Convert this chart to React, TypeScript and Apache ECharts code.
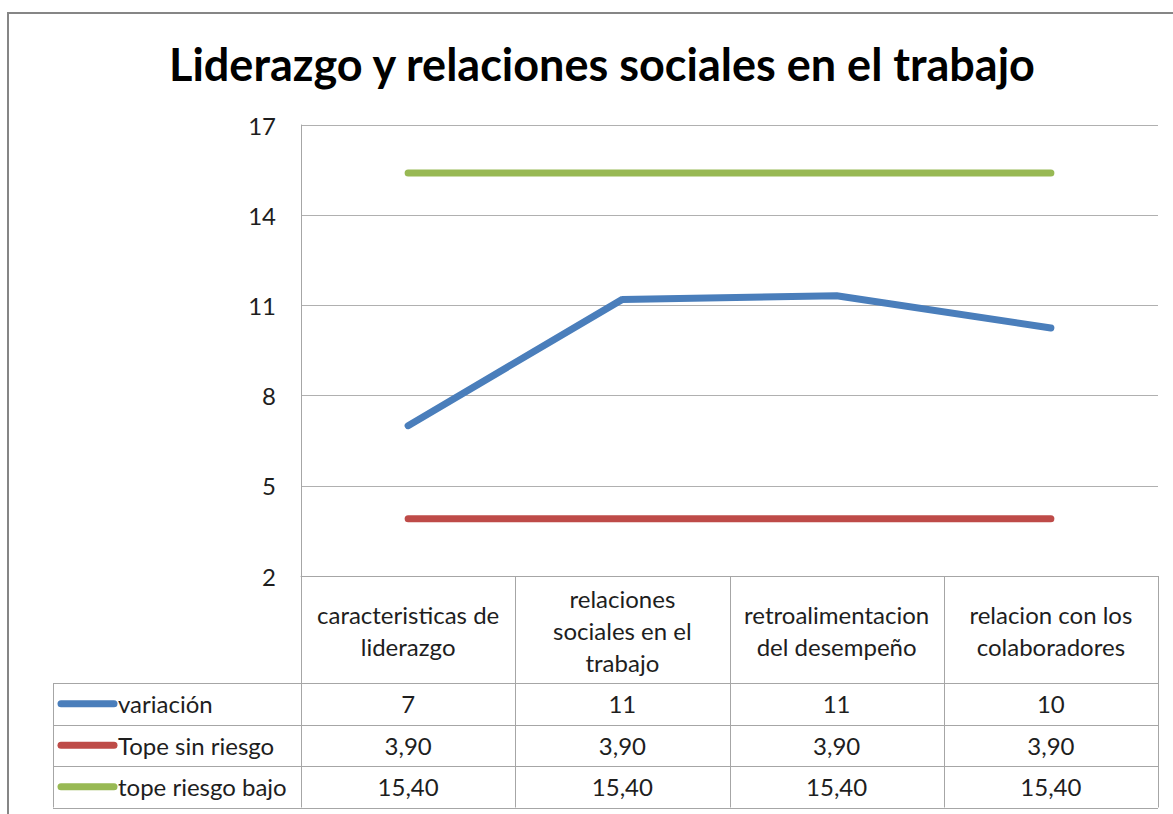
import React, { useEffect, useRef } from "react";
import * as echarts from "echarts";

const TITLE = "Liderazgo y relaciones sociales en el trabajo";
const categories = [
  "caracteristicas de\nliderazgo",
  "relaciones\nsociales en el\ntrabajo",
  "retroalimentacion\ndel desempeño",
  "relacion con los\ncolaboradores",
];
const variacion = [7.0, 11.2, 11.32, 10.25];
const topeSinRiesgo = [3.9, 3.9, 3.9, 3.9];
const topeRiesgoBajo = [15.4, 15.4, 15.4, 15.4];
const yTicks = [2, 5, 8, 11, 14, 17];

const seriesNames = ["variación", "Tope sin riesgo", "tope riesgo bajo"];
const seriesColors = ["#4a7ebb", "#be4b48", "#98b954"];
const seriesData = [variacion, topeSinRiesgo, topeRiesgoBajo];
const seriesFormat = [
  (v: number) => String(Math.round(v)),
  (v: number) => v.toFixed(2).replace(".", ","),
  (v: number) => v.toFixed(2).replace(".", ","),
];

const FONT = "Lato, 'Open Sans', sans-serif";
const FS = 24;
const TEXT = "#1e1e1e";
const GRID = "#b0b0b0";
const TABLE = "#a6a6a6";

export default function App() {
  const ref = useRef<HTMLDivElement>(null);
  useEffect(() => {
    if (!ref.current) return;
    const chart = echarts.init(ref.current, undefined, { renderer: "svg" });
    const option: any = {
      animation: false,
      backgroundColor: "#ffffff",
      title: {
        text: TITLE,
        left: 597,
        textAlign: "center",
        top: 36,
        textStyle: { fontFamily: FONT, fontSize: 45, fontWeight: "bold", color: "#000" },
      },
      grid: { left: 301, right: 15, top: 125, bottom: 238, containLabel: false },
      xAxis: {
        type: "category",
        data: categories,
        boundaryGap: true,
        axisLine: { show: true, lineStyle: { color: TABLE, width: 1 } },
        axisTick: { show: false },
        axisLabel: {
          interval: 0,
          margin: 54,
          verticalAlign: "middle",
          fontFamily: FONT,
          fontSize: FS,
          lineHeight: 32,
          color: TEXT,
          align: "center",
        },
      },
      yAxis: {
        type: "value",
        min: 2,
        max: 17,
        axisLine: { show: true, lineStyle: { color: TABLE, width: 1 } },
        axisTick: { show: false, customValues: yTicks },
        axisLabel: {
          customValues: yTicks,
          margin: 25,
          fontFamily: FONT,
          fontSize: FS,
          color: TEXT,
        },
        splitLine: { show: true, lineStyle: { color: GRID, width: 1 } },
      },
      series: seriesNames.map((name, i) => ({
        name,
        type: "line",
        data: seriesData[i],
        symbol: "none",
        lineStyle: { color: seriesColors[i], width: 7, cap: "round", join: "round" },
        z: 3 + (i === 0 ? 2 : 0),
      })),
    };
    chart.setOption(option);

    const xs = categories.map((_, i) => chart.convertToPixel({ xAxisIndex: 0 }, i) as number);
    const colW = xs[1] - xs[0];
    const left = xs[0] - colW / 2;
    const right = xs[xs.length - 1] + colW / 2;
    const axisY = chart.convertToPixel({ yAxisIndex: 0 }, 2) as number;
    const headerBottom = 683;
    const rowH = 41.5;
    const tableLeft = 53;
    const tableBottom = headerBottom + rowH * 3;

    const g: any[] = [];
    g.push({
      type: "rect",
      shape: { x: 8, y: 13, width: 1250, height: 900 },
      style: { fill: "none", stroke: "#868686", lineWidth: 2 },
      silent: true,
    });
    const line = (x1: number, y1: number, x2: number, y2: number) => ({
      type: "line",
      shape: { x1, y1, x2, y2 },
      style: { stroke: TABLE, lineWidth: 1 },
      silent: true,
    });
    for (let r = 0; r <= 3; r++) {
      const y = Math.round(headerBottom + rowH * r) + 0.5;
      g.push(line(tableLeft, y, right, y));
    }
    g.push(line(tableLeft + 0.5, headerBottom, tableLeft + 0.5, tableBottom));
    g.push(line(Math.round(left) + 0.5, axisY, Math.round(left) + 0.5, tableBottom));
    for (let i = 1; i < xs.length; i++) {
      const x = Math.round((xs[i - 1] + xs[i]) / 2) + 0.5;
      g.push(line(x, axisY, x, tableBottom));
    }
    g.push(line(Math.round(right) + 0.5, axisY, Math.round(right) + 0.5, tableBottom));
    seriesNames.forEach((name, r) => {
      const cy = headerBottom + rowH * r + rowH / 2;
      g.push({
        type: "line",
        shape: { x1: 61, y1: cy, x2: 114, y2: cy },
        style: { stroke: seriesColors[r], lineWidth: 7, lineCap: "round" },
        silent: true,
      });
      g.push({
        type: "text",
        x: 118,
        y: cy,
        style: {
          text: name,
          fontFamily: FONT,
          fontSize: FS,
          fill: TEXT,
          textAlign: "left",
          textVerticalAlign: "middle",
        },
        silent: true,
      });
      seriesData[r].forEach((v, i) => {
        g.push({
          type: "text",
          x: xs[i],
          y: cy,
          style: {
            text: seriesFormat[r](v),
            fontFamily: FONT,
            fontSize: FS,
            fill: TEXT,
            textAlign: "center",
            textVerticalAlign: "middle",
          },
          silent: true,
        });
      });
    });
    chart.setOption({ graphic: g });
    return () => chart.dispose();
  }, []);
  return (
    <div
      ref={ref}
      style={{ position: "absolute", left: 0, top: 0, width: 1173, height: 814 }}
    />
  );
}
